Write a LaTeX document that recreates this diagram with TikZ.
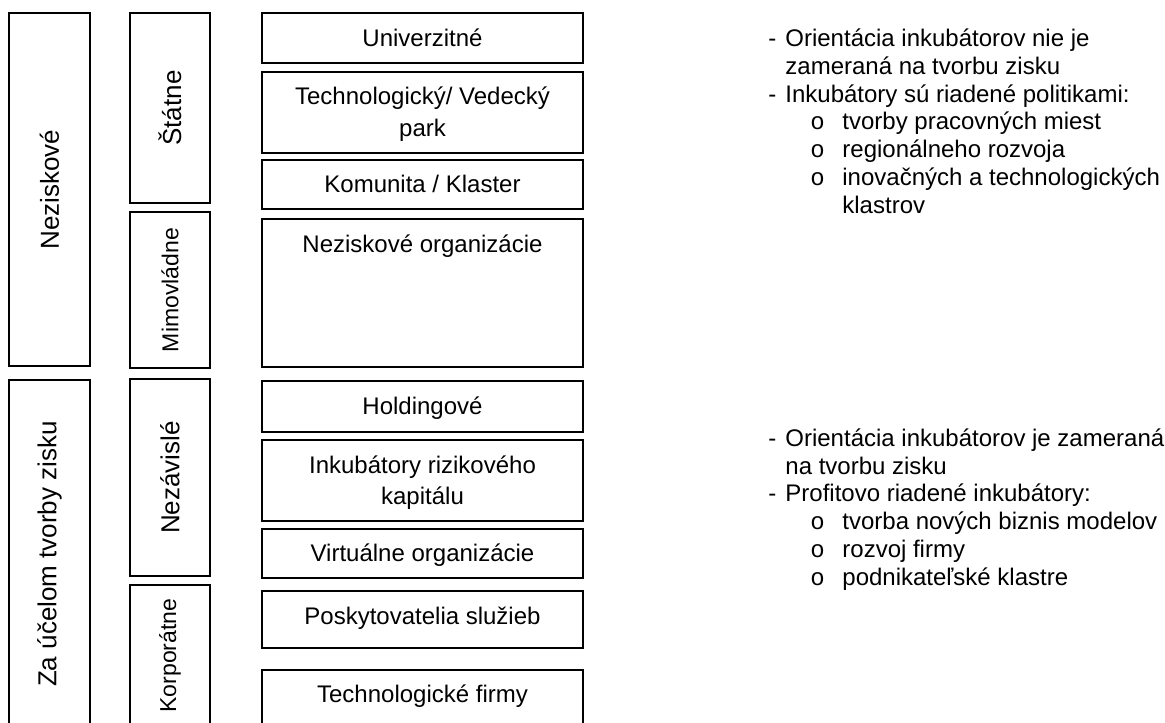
\documentclass[tikz,border=0pt]{standalone}
\usepackage{fontspec}
\setmainfont{Liberation Sans}
\setmonofont{Liberation Mono}
\tikzset{frame/.style = {line width=0.9pt},
         celltext/.style = {anchor=base, align=center, inner sep=0pt,
                            font=\fontsize{12}{15.75}\selectfont},
         sidetext/.style = {rotate=90, inner sep=0pt,
                            font=\fontsize{13}{15}\selectfont},
         smallside/.style = {sidetext, font=\fontsize{11.5}{14}\selectfont},
         notes/.style = {anchor=base west, align=left, inner sep=0pt,
                         font=\fontsize{12}{13.85}\selectfont}}

\begin{document}
\begin{tikzpicture}[x=0.5pt, y=-0.5pt]
  \clip (0,0) rectangle (1165,722);

  % outer column
  \draw [frame] (9,13) rectangle (90,366);
  \draw [frame] (9,380) rectangle (90,740);
  \node [sidetext] (nonprofit) at (49.5,189.5) {Neziskové};
  \node [sidetext] (forprofit) at (49.5,554) {Za účelom tvorby zisku};

  % middle column
  \draw [frame] (130,13) rectangle (210,203);
  \draw [frame] (130,212) rectangle (210,368);
  \draw [frame] (130,379) rectangle (210,576);
  \draw [frame] (130,585) rectangle (210,740);
  \node [sidetext] (state) at (170,108) {Štátne};
  \node [smallside] (ngo) at (170,290) {Mimovládne};
  \node [sidetext] (indep) at (170,477.5) {Nezávislé};
  \node [smallside] (corp) at (170,655.5) {Korporátne};

  % incubator types (multi-line nodes sit on their last baseline)
  \draw [frame] (262,13) rectangle (583,63);
  \draw [frame] (262,72) rectangle (583,153);
  \draw [frame] (262,160) rectangle (583,209);
  \draw [frame] (262,219) rectangle (583,367);
  \draw [frame] (262,381) rectangle (583,432);
  \draw [frame] (262,440) rectangle (583,521);
  \draw [frame] (262,529) rectangle (583,578);
  \draw [frame] (262,591) rectangle (583,648);
  \draw [frame] (262,670) rectangle (583,740);
  \node [celltext] (univ) at (422.5,46.5) {Univerzitné};
  \node [celltext] (park) at (422.5,136) {Technologický/ Vedecký\\park};
  \node [celltext] (cluster) at (422.5,192.5) {Komunita / Klaster};
  \node [celltext] (nporg) at (422.5,252) {Neziskové organizácie};
  \node [celltext] (holding) at (422.5,414) {Holdingové};
  \node [celltext] (venture) at (422.5,504.5) {Inkubátory rizikového\\kapitálu};
  \node [celltext] (virtual) at (422.5,561.5) {Virtuálne organizácie};
  \node [celltext] (service) at (422.5,624) {Poskytovatelia služieb};
  \node [celltext] (techfirm) at (422.5,702) {Technologické firmy};

  % notes
  \node [notes] (policy) at (768,213) {%
    \makebox[8.5pt][l]{-}Orientácia inkubátorov nie je\\
    \hspace*{8.5pt}zameraná na tvorbu zisku\\
    \makebox[8.5pt][l]{-}Inkubátory sú riadené politikami:\\
    \hspace*{21pt}\makebox[16pt][l]{\texttt{o}}tvorby pracovných miest\\
    \hspace*{21pt}\makebox[16pt][l]{\texttt{o}}regionálneho rozvoja\\
    \hspace*{21pt}\makebox[16pt][l]{\texttt{o}}inovačných a technologických\\
    \hspace*{37pt}klastrov};
  \node [notes] (profit) at (768,585) {%
    \makebox[8.5pt][l]{-}Orientácia inkubátorov je zameraná\\
    \hspace*{8.5pt}na tvorbu zisku\\
    \makebox[8.5pt][l]{-}Profitovo riadené inkubátory:\\
    \hspace*{21pt}\makebox[16pt][l]{\texttt{o}}tvorba nových biznis modelov\\
    \hspace*{21pt}\makebox[16pt][l]{\texttt{o}}rozvoj firmy\\
    \hspace*{21pt}\makebox[16pt][l]{\texttt{o}}podnikateľské klastre};
\end{tikzpicture}
\end{document}
